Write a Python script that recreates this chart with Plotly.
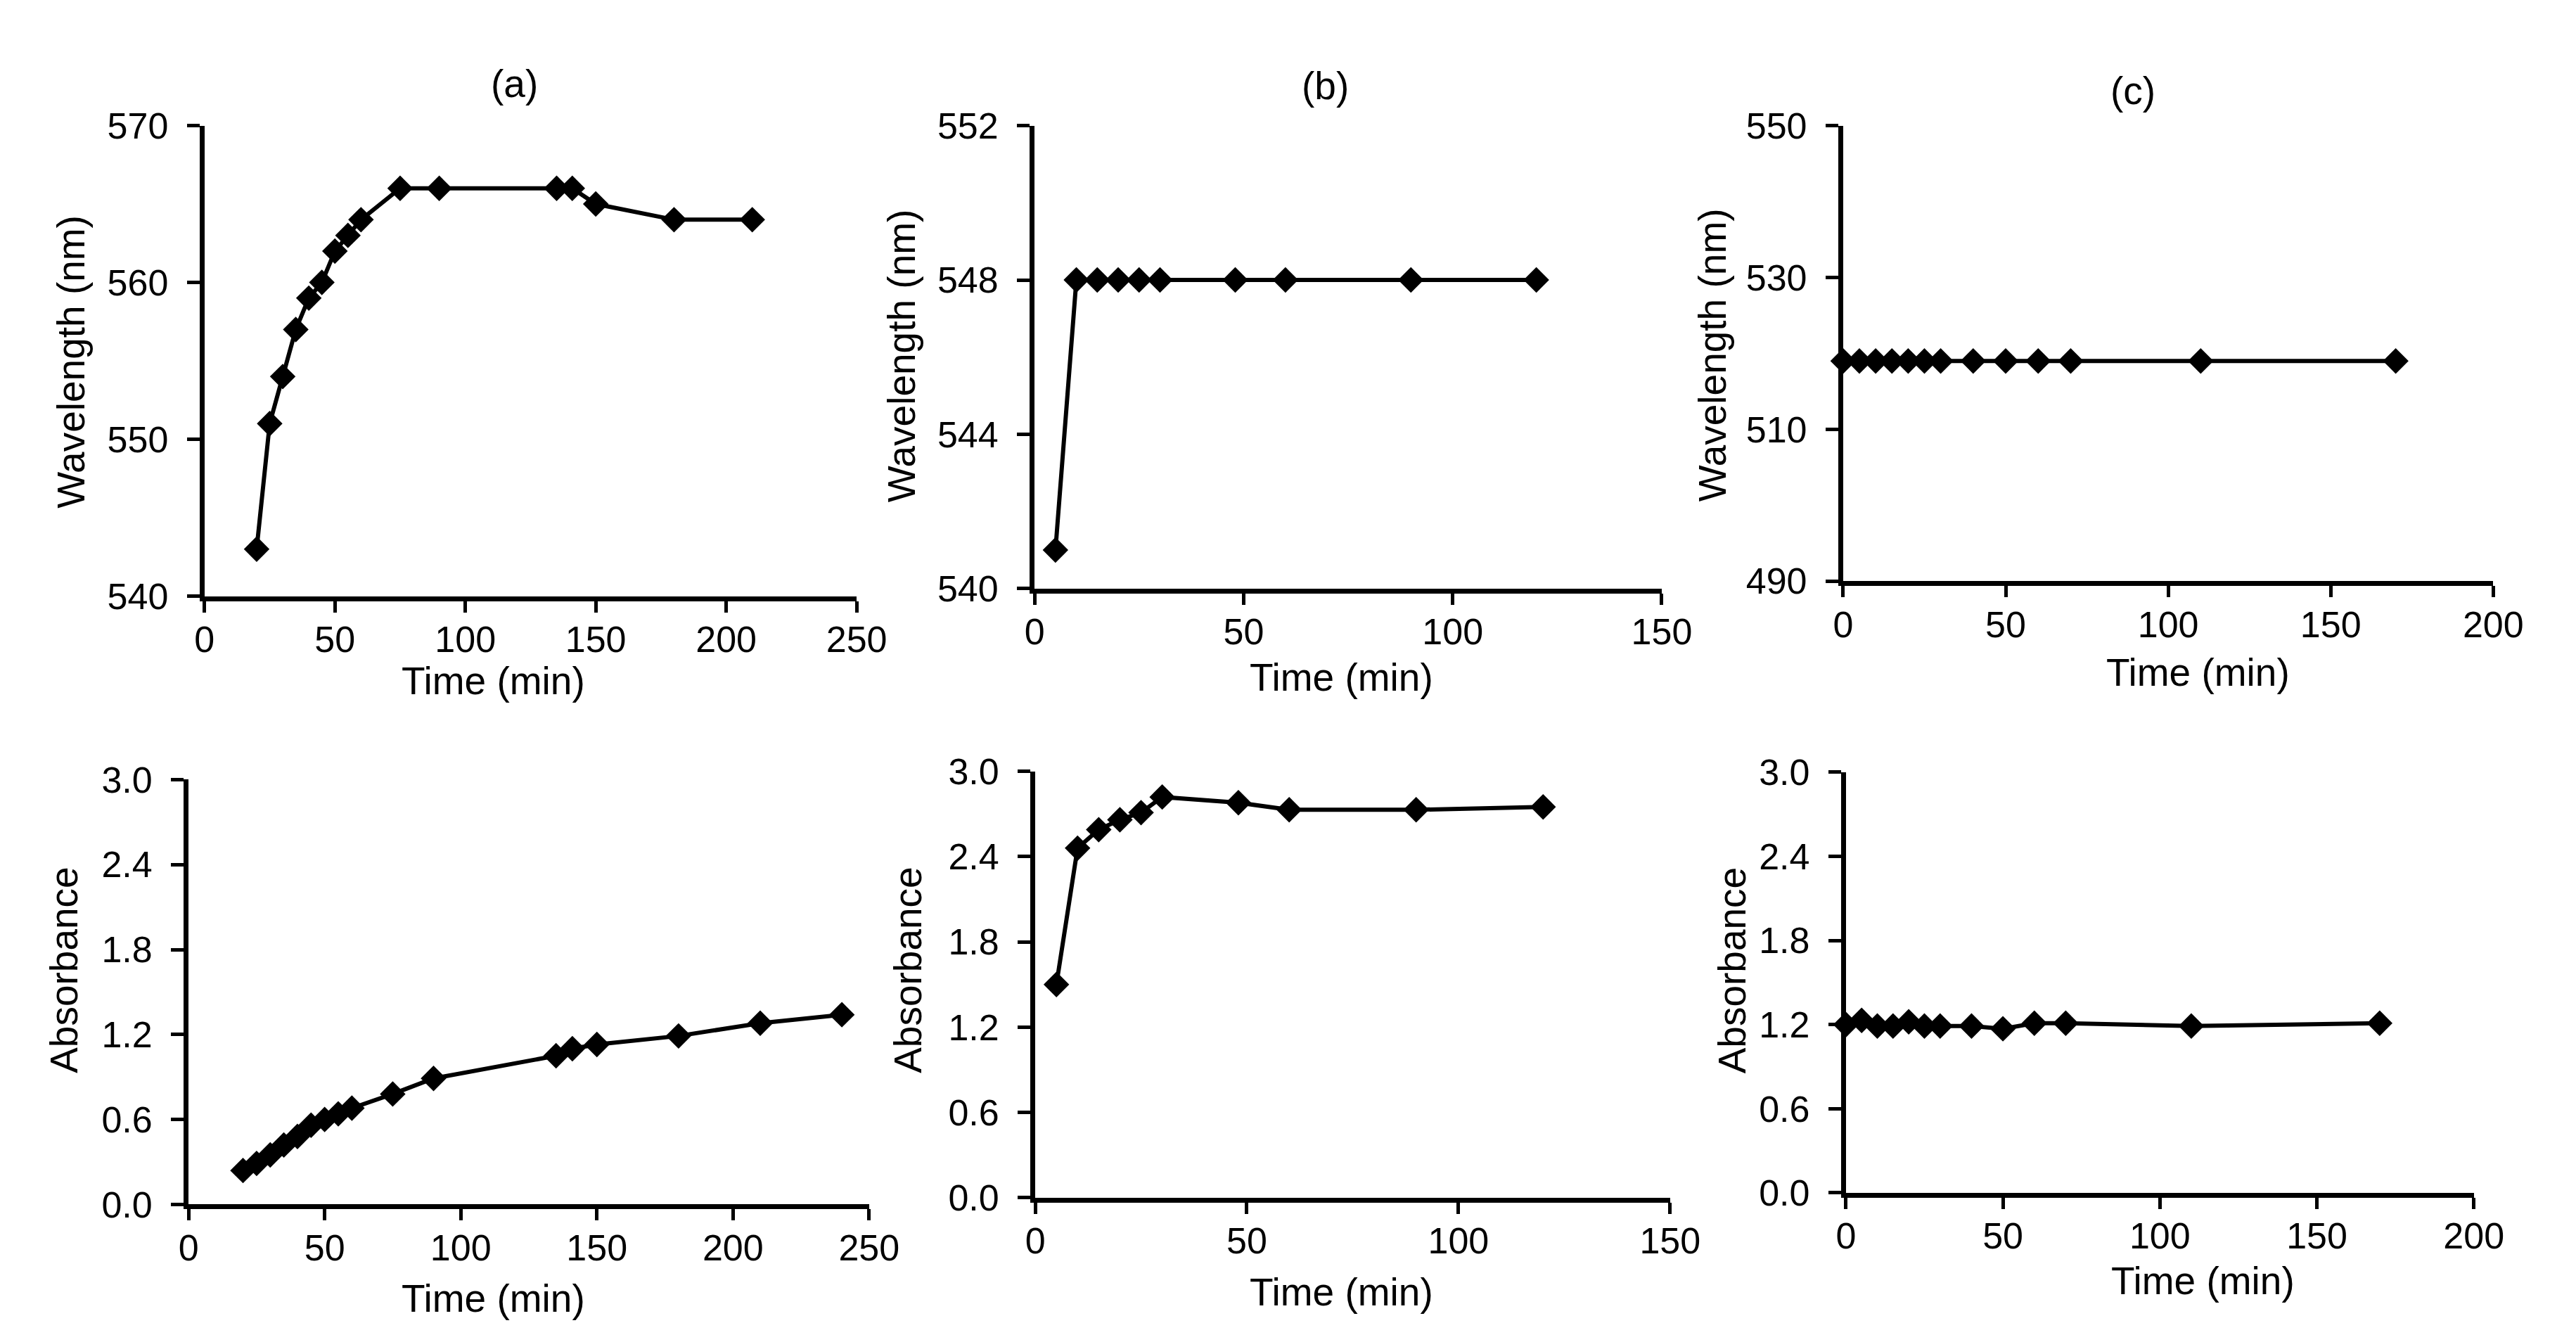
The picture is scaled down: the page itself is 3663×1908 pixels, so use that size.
import plotly.graph_objects as go

W, H = 3663, 1908

# ---- data ----
time_a_wl = [20, 25, 30, 35, 40, 45, 50, 55, 60, 75, 90, 135, 141, 150, 180, 210]
wl_a = [543, 551, 554, 557, 559, 560, 562, 563, 564, 566, 566, 566, 566, 565, 564, 564]

time_b = [5, 10, 15, 20, 25, 30, 48, 60, 90, 120]
wl_b = [541, 548, 548, 548, 548, 548, 548, 548, 548, 548]

time_c = [0, 5, 10, 15, 20, 25, 30, 40, 50, 60, 70, 110, 170]
wl_c = [519, 519, 519, 519, 519, 519, 519, 519, 519, 519, 519, 519, 519]

time_a_abs = [20, 25, 30, 35, 40, 45, 50, 55, 60, 75, 90, 135, 141, 150, 180, 210, 240]
abs_a = [0.24, 0.29, 0.35, 0.42, 0.48, 0.56, 0.60, 0.64, 0.68, 0.78, 0.89,
         1.05, 1.10, 1.13, 1.19, 1.28, 1.34]

abs_b = [1.50, 2.46, 2.59, 2.66, 2.71, 2.82, 2.78, 2.73, 2.73, 2.75]

abs_c = [1.20, 1.23, 1.19, 1.19, 1.22, 1.19, 1.19, 1.19, 1.17, 1.21, 1.21, 1.19, 1.21]

panel_labels = ['(a)', '(b)', '(c)']

# ---- layout helpers (pixel boxes of each plot area: x0, x1, ytop, ybottom) ----
def fx(px):
    return px / W

def fy(py):
    return 1 - py / H

boxes = [
    (273, 1215, 146, 836),
    (1472, 2378, 146, 825),
    (2640, 3579, 146, 814),
    (250, 1233, 1105, 1728),
    (1473, 2390, 1093, 1718),
    (2644, 3551, 1094, 1711),
]
xranges = [[0, 250], [0, 150], [0, 200], [0, 250], [0, 150], [0, 200]]
yranges = [[540, 570], [540, 552], [490, 550], [0, 3], [0, 3], [0, 3]]
ydticks = [10, 4, 20, 0.6, 0.6, 0.6]
yformats = ['d', 'd', 'd', '.1f', '.1f', '.1f']

series = [
    (time_a_wl, wl_a), (time_b, wl_b), (time_c, wl_c),
    (time_a_abs, abs_a), (time_b, abs_b), (time_c, abs_c),
]

font_family = 'Liberation Sans, Arial, sans-serif'
tick_font = dict(family=font_family, size=52, color='black')
title_font = dict(family=font_family, size=55, color='black')

fig = go.Figure()
layout = dict(
    width=W, height=H,
    margin=dict(l=0, r=0, t=0, b=0),
    paper_bgcolor='white', plot_bgcolor='white',
    showlegend=False,
    font=dict(family=font_family, color='black'),
)

for i, ((xs, ys), box) in enumerate(zip(series, boxes)):
    n = '' if i == 0 else str(i + 1)
    fig.add_trace(go.Scatter(
        x=xs, y=ys, mode='lines+markers',
        line=dict(color='black', width=6),
        marker=dict(symbol='diamond', size=28, color='black'),
        cliponaxis=False,
        xaxis='x' + n, yaxis='y' + n,
    ))
    x0, x1, yt, yb = box
    layout['xaxis' + n] = dict(
        domain=[fx(x0), fx(x1)], anchor='y' + n,
        range=xranges[i], dtick=50, tick0=0,
        showgrid=False, zeroline=False,
        showline=True, linecolor='black', linewidth=7,
        ticks='outside', ticklen=16, tickwidth=5, tickcolor='black',
        ticklabelstandoff=-6,
        tickfont=tick_font,
    )
    layout['yaxis' + n] = dict(
        domain=[fy(yb), fy(yt)], anchor='x' + n,
        range=yranges[i], dtick=ydticks[i], tick0=yranges[i][0],
        tickformat=yformats[i],
        showgrid=False, zeroline=False,
        showline=True, linecolor='black', linewidth=7,
        ticks='outside', ticklen=18, tickwidth=5, tickcolor='black',
        ticklabelstandoff=16,
        tickfont=tick_font,
    )

annotations = []
# panel letters
for label, (px, py) in zip(panel_labels, [(721, 85), (1892, 88), (3059, 95)]):
    annotations.append(dict(text=label, x=fx(px), y=fy(py), xref='paper', yref='paper',
                            showarrow=False, font=title_font, xanchor='center', yanchor='middle'))

# x axis titles
for px, py in [(690, 960), (1915, 955), (3153, 948), (690, 1866), (1915, 1856), (3160, 1840)]:
    annotations.append(dict(text='Time (min)', x=fx(px), y=fy(py), xref='paper', yref='paper',
                            showarrow=False, font=title_font, xanchor='center', yanchor='middle'))

# y axis titles
ytitles = [('Wavelength (nm)', 80, 492), ('Wavelength (nm)', 1280, 484), ('Wavelength (nm)', 2452, 482),
           ('Absorbance', 70, 1384), ('Absorbance', 1289, 1384), ('Absorbance', 2480, 1384)]
for text, px, py in ytitles:
    annotations.append(dict(text=text, x=fx(px), y=fy(py), xref='paper', yref='paper',
                            showarrow=False, font=title_font, textangle=-90,
                            xanchor='center', yanchor='middle'))

layout['annotations'] = annotations
fig.update_layout(layout)

fig.write_html('out.html')
